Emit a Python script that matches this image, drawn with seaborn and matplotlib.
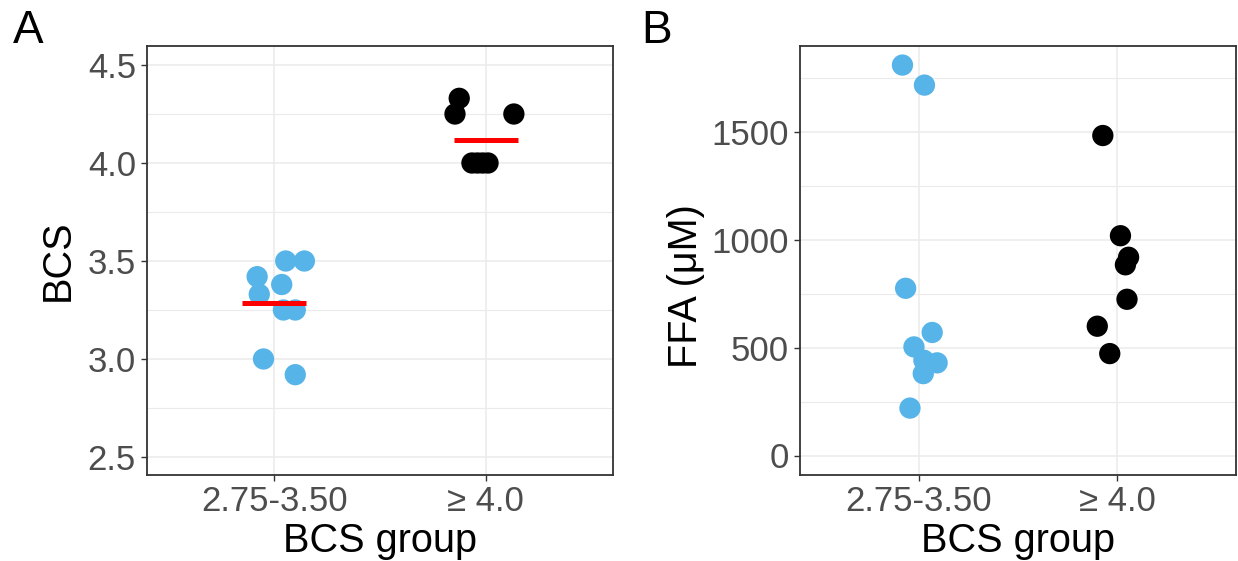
import numpy as np
import pandas as pd
import matplotlib
matplotlib.use("Agg")
import matplotlib.pyplot as plt
import seaborn as sns

# ---- data ----
groups = ["2.75-3.50", "\u2265 4.0"]
colors = ["#56B4E9", "#000000"]

bcs_low = [3.42, 3.33, 3.38, 3.50, 3.50, 3.25, 3.25, 3.00, 2.92]
bcs_high = [4.33, 4.25, 4.25, 4.00, 4.00, 4.00, 4.00]
ffa_low = [1812, 1719, 776, 571, 504, 430, 442, 380, 220]
ffa_high = [1485, 1020, 920, 885, 725, 600, 473]

# horizontal jitter offsets (in category units)
jit_bcs_low = [-0.08, -0.07, 0.036, 0.055, 0.143, 0.044, 0.10, -0.05, 0.10]
jit_bcs_high = [-0.126, -0.146, 0.132, -0.066, -0.04, -0.015, 0.01]
jit_ffa_low = [-0.083, 0.028, -0.067, 0.067, -0.025, 0.092, 0.025, 0.022, -0.045]
jit_ffa_high = [-0.072, 0.017, 0.058, 0.042, 0.05, -0.10, -0.037]

bcs_ticks = [2.5, 3.0, 3.5, 4.0, 4.5]
bcs_minor = [2.75, 3.25, 3.75, 4.25]
ffa_ticks = [0, 500, 1000, 1500]
ffa_minor = [250, 750, 1250, 1750]

sns.set_theme(style="white")
plt.rcParams["font.family"] = ["Liberation Sans", "DejaVu Sans"]

TICK_FS = 25
LAB_FS = 28.5
LETTER_FS = 33
TICK_COL = "#4D4D4D"
GRID_COL = "#EBEBEB"


def make_df(low, high, jl, jh):
    return pd.DataFrame({
        "group": [groups[0]] * len(low) + [groups[1]] * len(high),
        "value": list(low) + list(high),
        "xpos": [0 + j for j in jl] + [1 + j for j in jh],
    })


df_bcs = make_df(bcs_low, bcs_high, jit_bcs_low, jit_bcs_high)
df_ffa = make_df(ffa_low, ffa_high, jit_ffa_low, jit_ffa_high)

fig = plt.figure(figsize=(12.38, 5.61), dpi=100)
axA = fig.add_axes([147 / 1238, 86 / 561, 466 / 1238, 429 / 561])
axB = fig.add_axes([800 / 1238, 86 / 561, 436 / 1238, 429 / 561])


def style_axis(ax, ticks, minor, ylim):
    ax.set_xlim(-0.6, 1.6)
    ax.set_ylim(*ylim)
    ax.set_xticks([0, 1])
    ax.set_xticklabels(groups)
    ax.set_yticks(ticks)
    ax.set_yticks(minor, minor=True)
    ax.grid(True, which="major", color=GRID_COL, linewidth=1.1)
    ax.grid(True, which="minor", axis="y", color=GRID_COL, linewidth=0.8)
    ax.set_axisbelow(True)
    for s in ax.spines.values():
        s.set_visible(True)
        s.set_color("#333333")
        s.set_linewidth(1.3)
    ax.tick_params(axis="both", which="major", length=4.5, width=1.0,
                   color="#333333", labelsize=TICK_FS, labelcolor=TICK_COL,
                   left=True, bottom=True)
    ax.tick_params(axis="x", pad=2.5)
    ax.tick_params(axis="y", pad=3.5)
    ax.tick_params(which="minor", length=0)
    ax.set_facecolor("white")


# Panel A
style_axis(axA, bcs_ticks, bcs_minor, (2.408, 4.597))
sns.scatterplot(data=df_bcs, x="xpos", y="value", hue="group",
                palette=dict(zip(groups, colors)), s=235, linewidth=0,
                legend=False, ax=axA, zorder=3)
means = [np.mean(bcs_low), np.mean(bcs_high)]
for i, m in enumerate(means):
    axA.hlines(m, i - 0.15, i + 0.15, color="#FF0000", linewidth=3.6, zorder=4)
axA.set_xlabel("BCS group", fontsize=LAB_FS, color="black")
axA.set_ylabel("BCS", fontsize=LAB_FS, color="black")
axA.xaxis.set_label_coords(0.5, -0.1795)
axA.xaxis.label.set_va("baseline")
axA.yaxis.set_label_coords(-0.191, 0.5)
axA.yaxis.label.set_va("center")

# Panel B
style_axis(axB, ffa_ticks, ffa_minor, (-90.5, 1900.5))
sns.scatterplot(data=df_ffa, x="xpos", y="value", hue="group",
                palette=dict(zip(groups, colors)), s=235, linewidth=0,
                legend=False, ax=axB, zorder=3)
axB.set_xlabel("BCS group", fontsize=LAB_FS, color="black")
axB.set_ylabel("FFA (\u03bcM)", fontsize=LAB_FS, color="black")
axB.xaxis.set_label_coords(0.5, -0.1795)
axB.xaxis.label.set_va("baseline")
axB.yaxis.set_label_coords(-0.2615, 0.4406)
axB.yaxis.label.set_va("center")

fig.text(13 / 1238, 1 - 43 / 561, "A", fontsize=LETTER_FS, color="black",
         ha="left", va="baseline")
fig.text(641 / 1238, 1 - 43 / 561, "B", fontsize=LETTER_FS, color="black",
         ha="left", va="baseline")

fig.savefig("out.png", dpi=100, facecolor="white")
